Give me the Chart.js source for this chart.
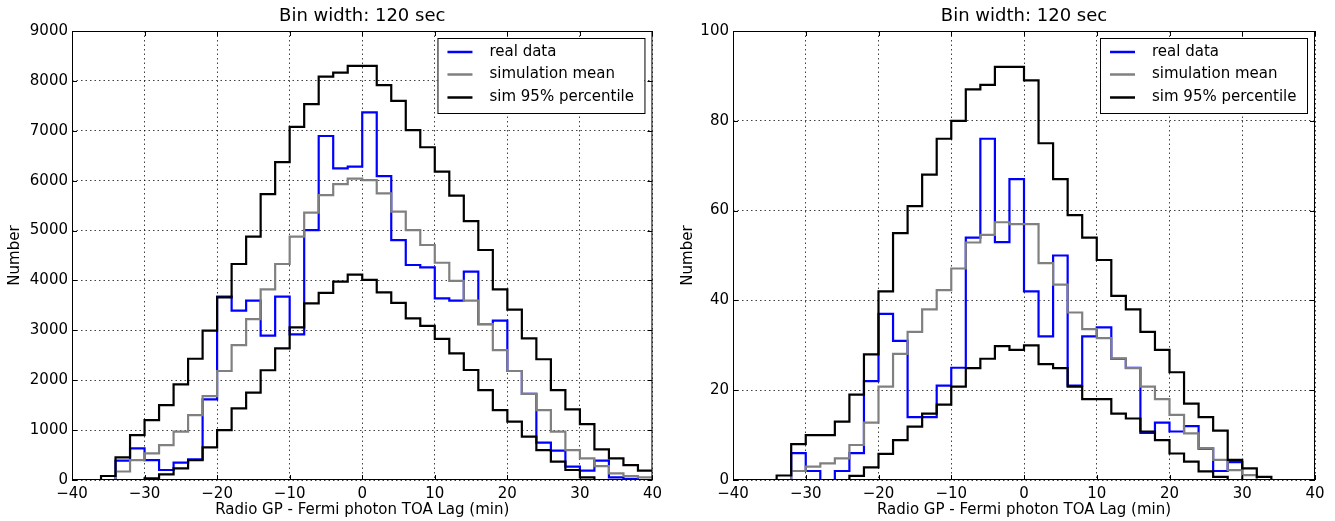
<!DOCTYPE html>
<html>
<head>
<meta charset="utf-8">
<script src="https://cdn.jsdelivr.net/npm/chart.js@4"></script>
<style>
  html, body { margin: 0; padding: 0; background: #fff; }
  #wrap { position: relative; width: 1335px; height: 521px; }
  canvas { position: absolute; top: 0; }
  #left-chart { left: 0; }
  #right-chart { left: 667px; }
</style>
</head>
<body>
<div id="wrap">
  <canvas id="left-chart" width="667" height="521"></canvas>
  <canvas id="right-chart" width="668" height="521"></canvas>
</div>
<script>
// left edge of every 2 min bin, last edge closes the histogram
const binStarts = [-40, -38, -36, -34, -32, -30, -28, -26, -24, -22, -20, -18, -16, -14, -12, -10, -8, -6, -4, -2,
  0, 2, 4, 6, 8, 10, 12, 14, 16, 18, 20, 22, 24, 26, 28, 30, 32, 34, 36, 38];
const lastEdge = 40;

const panelTitle = "Bin width: 120 sec";
const xAxisTitle = "Radio GP - Fermi photon TOA Lag (min)";
const yAxisTitle = "Number";
const legendLabels = ["real data", "simulation mean", "sim 95% percentile"];

// left panel (counts)
const leftReal = [0, 0, 0, 387, 635, 400, 200, 347, 415, 1617, 3675, 3395, 3595, 2895, 3675, 2920, 5010, 6895, 6245, 6280,
  7370, 6090, 4810, 4310, 4260, 3640, 3595, 4175, 3125, 3195, 2185, 1725, 750, 590, 267, 187, 387, 53, 25, 0];
const leftMean = [0, 0, 0, 170, 400, 535, 700, 970, 1300, 1683, 2185, 2705, 3225, 3820, 4330, 4877, 5360, 5710, 5930, 6040,
  6010, 5745, 5380, 5010, 4710, 4355, 3990, 3595, 3125, 2605, 2185, 1725, 1400, 970, 600, 435, 280, 134, 80, 53];
const leftUpper = [0, 0, 80, 455, 900, 1200, 1500, 1917, 2430, 2993, 3660, 4330, 4877, 5730, 6370, 7080, 7535, 8085, 8165, 8300,
  8300, 7915, 7600, 7015, 6670, 6180, 5700, 5190, 4610, 3820, 3415, 2840, 2420, 1800, 1417, 1120, 615, 435, 300, 187];
const leftLower = [0, 0, 0, 0, 0, 35, 114, 234, 400, 655, 1000, 1435, 1750, 2200, 2640, 3060, 3540, 3750, 3975, 4115,
  4010, 3760, 3550, 3240, 3090, 2830, 2540, 2205, 1800, 1400, 1170, 870, 600, 367, 200, 53, 0, 0, 0, 0];

// right panel (counts)
const rightReal = [0, 0, 0, 0, 6, 2, 0, 2, 6, 22, 37, 31, 14, 14, 21, 25, 54, 76, 53, 67,
  42, 32, 50, 21, 32, 34, 27, 25, 10.5, 12.8, 10.8, 12, 7, 2, 4, 0, 0, 0, 0, 0];
const rightMean = [0, 0, 0, 0, 2, 3, 3.7, 4.8, 7.8, 12.8, 20.8, 28.1, 33, 38, 42.3, 47.1, 52.9, 54.6, 57.4, 57,
  57, 48.3, 43.5, 37.3, 33.6, 31.6, 27.1, 24.9, 20.8, 18, 14.5, 10.4, 7.1, 4.5, 2.2, 1.1, 0, 0, 0, 0];
const rightUpper = [0, 0, 0, 1, 8, 10, 10, 13, 19, 28, 42, 55, 61, 68, 76, 80, 87, 88, 92, 92,
  89, 75, 67, 59, 54, 49, 41, 38, 33, 29, 24, 17, 14, 11, 4.5, 2.6, 0.7, 0, 0, 0];
const rightLower = [0, 0, 0, 0, 0, 0, 0, 0, 0.9, 2.8, 5.8, 8.9, 11.9, 14.8, 16.8, 20.8, 24.9, 27, 29.8, 29,
  30, 25.8, 24.9, 20.8, 18, 18, 14.8, 13.7, 10.8, 8.9, 5.9, 4.1, 1.9, 0.7, 0, 0, 0, 0, 0, 0];

Chart.defaults.font.family = "'DejaVu Sans', sans-serif";
Chart.defaults.color = "#000";

// turn bin values into points for a stepped outline
function toSteps(values) {
  const pts = binStarts.map((x, i) => ({ x: x, y: values[i] }));
  pts.push({ x: lastEdge, y: values[values.length - 1] });
  return pts;
}

function minusSign(v) {
  return v < 0 ? "\u2212" + Math.abs(v) : String(v);
}

// title, frame, inward ticks and the boxed legend
const panelDecor = {
  id: "panelDecor",
  afterDraw(chart) {
    const ctx = chart.ctx;
    const a = chart.chartArea;
    ctx.save();

    ctx.fillStyle = "#000";
    ctx.font = "18px 'DejaVu Sans', sans-serif";
    ctx.textAlign = "center";
    ctx.textBaseline = "middle";
    ctx.fillText(panelTitle, (a.left + a.right) / 2, 16);

    ctx.strokeStyle = "#000";
    ctx.lineWidth = 1;
    ctx.strokeRect(a.left + 0.5, a.top + 0.5, a.right - a.left - 1, a.bottom - a.top - 1);

    const xs = chart.scales.x;
    const ys = chart.scales.y;
    ctx.beginPath();
    xs.ticks.forEach((t) => {
      const px = Math.round(xs.getPixelForValue(t.value)) + 0.5;
      ctx.moveTo(px, a.bottom); ctx.lineTo(px, a.bottom - 5);
      ctx.moveTo(px, a.top); ctx.lineTo(px, a.top + 5);
    });
    ys.ticks.forEach((t) => {
      const py = Math.round(ys.getPixelForValue(t.value)) + 0.5;
      ctx.moveTo(a.left, py); ctx.lineTo(a.left + 5, py);
      ctx.moveTo(a.right, py); ctx.lineTo(a.right - 5, py);
    });
    ctx.stroke();

    // legend box in the upper right corner
    const bw = 207, bh = 75;
    const bx = a.right - 8 - bw;
    const by = a.top + 7;
    ctx.fillStyle = "#fff";
    ctx.fillRect(bx, by, bw, bh);
    ctx.strokeStyle = "#000";
    ctx.lineWidth = 1;
    ctx.strokeRect(bx + 0.5, by + 0.5, bw, bh);
    const colors = ["#0000ff", "#808080", "#000000"];
    const rows = [14, 36.5, 59.5];
    ctx.font = "15px 'DejaVu Sans', sans-serif";
    ctx.textAlign = "left";
    legendLabels.forEach((label, i) => {
      ctx.strokeStyle = colors[i];
      ctx.lineWidth = 2.5;
      ctx.beginPath();
      ctx.moveTo(bx + 10, by + rows[i]);
      ctx.lineTo(bx + 35, by + rows[i]);
      ctx.stroke();
      ctx.fillStyle = "#000";
      ctx.fillText(label, bx + 52, by + rows[i]);
    });
    ctx.restore();
  }
};

function makeChart(canvas, real, mean, upper, lower, yMax, yStep, yWidth, rightPad, yTitlePad) {
  const line = (data, color) => ({
    data: toSteps(data),
    borderColor: color,
    borderWidth: 2.2,
    pointRadius: 0,
    stepped: "before",
    fill: false
  });
  return new Chart(canvas.getContext("2d"), {
    type: "line",
    data: {
      // first dataset is drawn on top
      datasets: [
        line(upper, "#000000"),
        line(lower, "#000000"),
        line(mean, "#808080"),
        line(real, "#0000ff")
      ]
    },
    options: {
      responsive: false,
      animation: false,
      layout: { padding: { top: 31, right: rightPad, left: 0, bottom: 0 } },
      plugins: { legend: { display: false }, tooltip: { enabled: false } },
      scales: {
        x: {
          type: "linear",
          min: -40,
          max: 40,
          afterFit: (s) => { s.height = 41; },
          ticks: { stepSize: 10, padding: 5, maxRotation: 0, font: { size: 15 }, callback: minusSign },
          grid: { color: "rgba(0,0,0,0.75)", lineWidth: 1, drawTicks: false },
          border: { display: false, dash: [1.5, 3] },
          title: { display: true, text: xAxisTitle, font: { size: 15 }, padding: { top: 0, bottom: 2 } }
        },
        y: {
          min: 0,
          max: yMax,
          afterFit: (s) => { s.width = yWidth; },
          ticks: { stepSize: yStep, padding: 4, font: { size: 15 }, callback: (v) => String(v) },
          grid: { color: "rgba(0,0,0,0.75)", lineWidth: 1, drawTicks: false },
          border: { display: false, dash: [1.5, 3] },
          title: { display: true, text: yAxisTitle, font: { size: 15 }, padding: { top: yTitlePad, bottom: 0 } }
        }
      }
    },
    plugins: [panelDecor]
  });
}

makeChart(document.querySelector("#left-chart"), leftReal, leftMean, leftUpper, leftLower, 9000, 1000, 72, 12, 6);
makeChart(document.querySelector("#right-chart"), rightReal, rightMean, rightUpper, rightLower, 100, 20, 66, 20, 12);
</script>
</body>
</html>
